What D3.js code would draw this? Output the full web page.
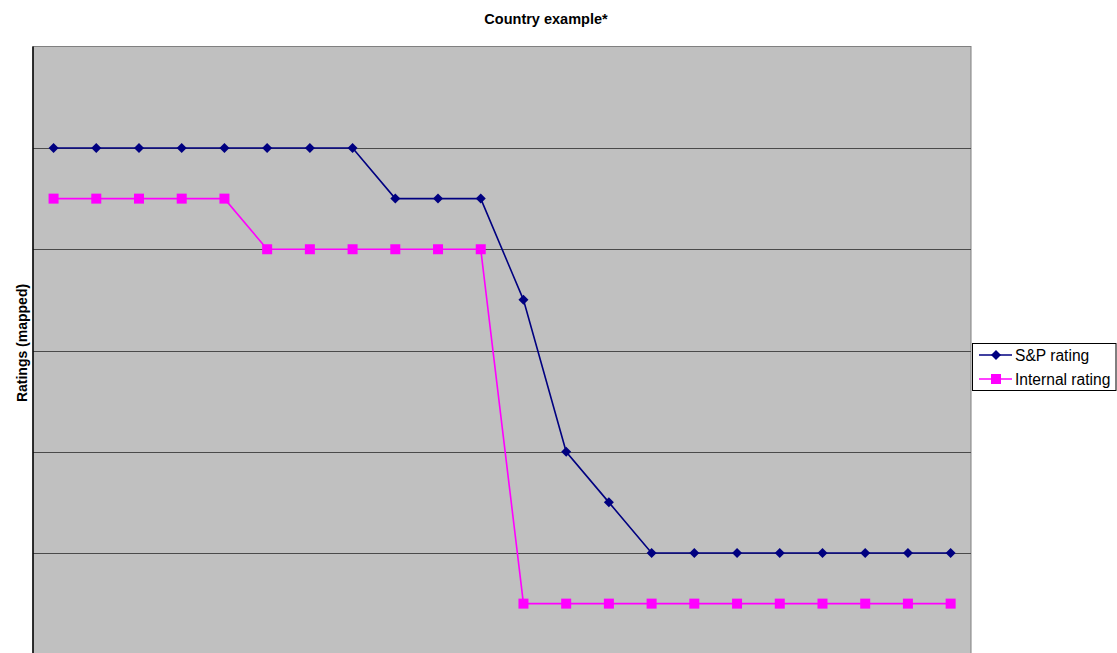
<!DOCTYPE html>
<html>
<head>
<meta charset="utf-8">
<script src="https://cdn.jsdelivr.net/npm/d3@7/dist/d3.min.js"></script>
<style>
  html, body { margin: 0; padding: 0; background: #fff; }
  svg { display: block; font-family: Arial, "Liberation Sans", sans-serif; }
</style>
</head>
<body>
<svg id="chart" width="1117" height="653"></svg>
<script>
// Periods (unlabelled on the axis)
const periods = d3.range(1, 23);
// Mapped rating scores per period
const spRating = [5, 5, 5, 5, 5, 5, 5, 5, 4.5, 4.5, 4.5, 3.5, 2, 1.5, 1, 1, 1, 1, 1, 1, 1, 1];
const internalRating = [4.5, 4.5, 4.5, 4.5, 4.5, 4, 4, 4, 4, 4, 4, 0.5, 0.5, 0.5, 0.5, 0.5, 0.5, 0.5, 0.5, 0.5, 0.5, 0.5];
const gridValues = [0, 1, 2, 3, 4, 5];
const seriesNames = ["S&P rating", "Internal rating"];

const svg = d3.select("#chart");
const plot = { left: 33, right: 971, top: 46.5, bottom: 654.25 };

const x = d3.scalePoint().domain(periods).range([32.2, 972]).padding(0.5);
const y = d3.scaleLinear().domain([0, 6]).range([plot.bottom, plot.top + 0.25]);

// Plot background
svg.append("rect")
  .attr("x", plot.left).attr("y", plot.top)
  .attr("width", plot.right - plot.left).attr("height", plot.bottom - plot.top)
  .attr("fill", "#C0C0C0")
  .attr("stroke", "#808080").attr("stroke-width", 1);

// Horizontal gridlines
svg.append("g")
  .selectAll("line").data(gridValues).join("line")
  .attr("x1", plot.left).attr("x2", plot.right)
  .attr("y1", d => Math.round(y(d)) + 0.5).attr("y2", d => Math.round(y(d)) + 0.5)
  .attr("stroke", "#4a4a4a").attr("stroke-width", 1);

// Value axis line
svg.append("line")
  .attr("x1", plot.left).attr("x2", plot.left)
  .attr("y1", plot.top).attr("y2", plot.bottom)
  .attr("stroke", "#000").attr("stroke-width", 1.5);

function drawSeries(values, color, marker) {
  const pts = values.map((v, i) => [x(periods[i]), y(v)]);
  svg.append("path")
    .attr("d", d3.line()(pts))
    .attr("fill", "none").attr("stroke", color).attr("stroke-width", 1.6);
  const g = svg.append("g");
  if (marker === "diamond") {
    g.selectAll("path").data(pts).join("path")
      .attr("d", d3.symbol().type(d3.symbolSquare).size(50)())
      .attr("transform", d => `translate(${d[0]},${d[1]}) rotate(45)`)
      .attr("fill", color);
  } else {
    g.selectAll("rect").data(pts).join("rect")
      .attr("x", d => d[0] - 5).attr("y", d => d[1] - 5)
      .attr("width", 10).attr("height", 10)
      .attr("fill", color);
  }
}

drawSeries(spRating, "#000080", "diamond");
drawSeries(internalRating, "#FF00FF", "square");

// Title
svg.append("text")
  .attr("x", 546).attr("y", 24)
  .attr("text-anchor", "middle")
  .attr("font-size", 14.5).attr("font-weight", "bold")
  .text("Country example*");

// Value axis title
svg.append("text")
  .attr("transform", "translate(27,343) rotate(-90)")
  .attr("text-anchor", "middle")
  .attr("font-size", 14).attr("font-weight", "bold")
  .text("Ratings (mapped)");

// Legend
const legend = svg.append("g");
legend.append("rect")
  .attr("x", 972.5).attr("y", 343.5).attr("width", 143.5).attr("height", 47)
  .attr("fill", "#fff").attr("stroke", "#000").attr("stroke-width", 1);
const legendColors = ["#000080", "#FF00FF"];
seriesNames.forEach((name, i) => {
  const ly = 355 + i * 24;
  legend.append("line")
    .attr("x1", 979).attr("x2", 1012).attr("y1", ly).attr("y2", ly)
    .attr("stroke", legendColors[i]).attr("stroke-width", 1.6);
  if (i === 0) {
    legend.append("path")
      .attr("d", d3.symbol().type(d3.symbolSquare).size(50)())
      .attr("transform", `translate(996,${ly}) rotate(45)`)
      .attr("fill", legendColors[i]);
  } else {
    legend.append("rect")
      .attr("x", 991).attr("y", ly - 5).attr("width", 10).attr("height", 10)
      .attr("fill", legendColors[i]);
  }
  legend.append("text")
    .attr("x", 1015).attr("y", ly + 6)
    .attr("font-size", 15.6)
    .text(name);
});
</script>
</body>
</html>
